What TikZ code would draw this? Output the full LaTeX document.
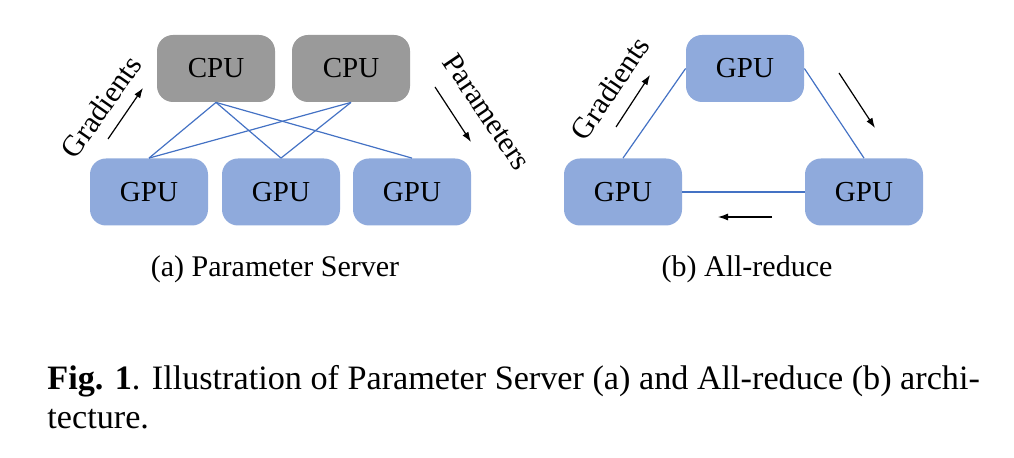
\documentclass[tikz,border=0pt]{standalone}
\usepackage{fontspec}
\setmainfont{Liberation Serif}
\usetikzlibrary{arrows.meta}

\definecolor{gpublue}{HTML}{8FAADC}
\definecolor{cpugray}{HTML}{9A9A9A}
\definecolor{linkblue}{HTML}{4472C4}

\begin{document}
\begin{tikzpicture}[x=0.5pt,y=-0.5pt,
    unit/.style={rounded corners=8pt, minimum width=59pt, minimum height=33.5pt,
      inner sep=0pt, font=\fontsize{14.5}{16}\selectfont},
    gpu/.style={unit, fill=gpublue},
    cpu/.style={unit, fill=cpugray},
    link/.style={linkblue, line width=0.6pt},
    flow/.style={-{Latex[length=5pt,width=3.5pt]}, line width=0.6pt},
    lbl/.style={font=\fontsize{15}{17}\selectfont}]
  \useasboundingbox (0,0) rectangle (1014,458);

  % (a) parameter server
  \node[cpu] (cpu1) at (216,68.5) {CPU};
  \node[cpu] (cpu2) at (351,68.5) {CPU};
  \node[gpu] (gpu1) at (149,192) {GPU};
  \node[gpu] (gpu2) at (281,192) {GPU};
  \node[gpu] (gpu3) at (412,192) {GPU};

  \draw[link] (cpu1.south) -- (gpu1.north);
  \draw[link] (cpu1.south) -- (gpu2.north);
  \draw[link] (cpu1.south) -- (gpu3.north);
  \draw[link] (cpu2.south) -- (gpu1.north);
  \draw[link] (cpu2.south) -- (gpu2.north);

  \coordinate (gradA) at (108,139);
  \coordinate (gradB) at (143,88);
  \draw[flow] (gradA) -- (gradB);
  \node[lbl, rotate=55] (gradtxt) at (101,107) {Gradients};

  \coordinate (parA) at (435,87);
  \coordinate (parB) at (471,142);
  \draw[flow] (parA) -- (parB);
  \node[lbl, rotate=-56] (partxt) at (487,112) {Parameters};

  \node[lbl, anchor=base] (capa) at (275,277) {(a) Parameter Server};

  % (b) all-reduce
  \node[gpu] (top) at (745,68.5) {GPU};
  \node[gpu] (left) at (623,192) {GPU};
  \node[gpu] (right) at (864,192) {GPU};

  \draw[link] (top.west) -- (left.north);
  \draw[link] (top.east) -- (right.north);
  \draw[link] (left.east) -- (right.west);

  \coordinate (ringA) at (616,127);
  \coordinate (ringB) at (650,75);
  \draw[flow] (ringA) -- (ringB);
  \node[lbl, rotate=56] (ringtxt) at (610,88) {Gradients};

  \coordinate (ringC) at (839,73);
  \coordinate (ringD) at (875,128);
  \draw[flow] (ringC) -- (ringD);
  \coordinate (ringE) at (772,217);
  \coordinate (ringF) at (718,217);
  \draw[flow] (ringE) -- (ringF);

  \node[lbl, anchor=base] (capb) at (747,277) {(b) All-reduce};

  % figure caption
  \node[anchor=base west, inner sep=0pt, font=\fontsize{17.1}{20}\selectfont] (fig1) at (47,390)
    {\textbf{Fig. 1}. Illustration of Parameter Server (a) and All-reduce (b) archi-};
  \node[anchor=base west, inner sep=0pt, font=\fontsize{17.1}{20}\selectfont] (fig2) at (47,429)
    {tecture.};
\end{tikzpicture}
\end{document}
